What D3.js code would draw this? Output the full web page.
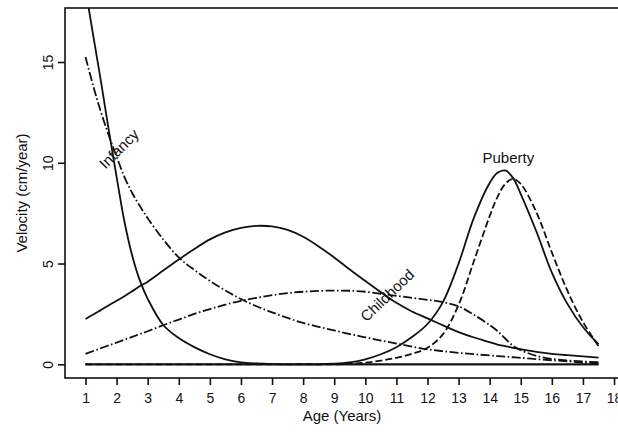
<!DOCTYPE html>
<html>
<head>
<meta charset="utf-8">
<script src="https://cdn.jsdelivr.net/npm/d3@7"></script>
<style>
  html, body { margin: 0; padding: 0; background: #fff; }
  svg { display: block; }
  text { font-family: "Liberation Sans", Arial, Helvetica, sans-serif; fill: #111; }
</style>
</head>
<body>
<svg id="chart" width="618" height="432"></svg>
<script>
// Growth velocity components (cm/year) by age (years)
const ages = [1, 1.25, 1.5, 1.75, 2, 2.25, 2.5, 2.75, 3, 3.5, 4, 4.5, 5, 5.5, 6, 6.5, 7, 7.5, 8, 8.5,
              9, 9.5, 10, 10.5, 11, 11.5, 12, 12.5, 13, 13.5, 14, 14.25, 14.5, 14.75, 15, 15.5, 16, 16.5, 17, 17.5];

const infancySolid = [18.6, 16.3, 14.0, 11.6, 9.3, 7.1, 5.4, 4.15, 3.25, 1.95, 1.3, 0.85, 0.5, 0.25, 0.1, 0.04, 0.01, 0, 0, 0,
                      0, 0, 0, 0, 0, 0, 0, 0, 0, 0, 0, 0, 0, 0, 0, 0, 0, 0, 0, 0];
const infancyDotDash = [15.25, 13.8, 12.5, 11.35, 10.3, 9.3, 8.5, 7.85, 7.25, 6.2, 5.3, 4.68, 4.14, 3.66, 3.24, 2.88, 2.58, 2.3, 2.05, 1.86,
                        1.68, 1.5, 1.34, 1.18, 1.03, 0.88, 0.74, 0.65, 0.57, 0.5, 0.44, 0.41, 0.38, 0.35, 0.32, 0.26, 0.2, 0.15, 0.09, 0.05];
const childhoodSolid = [2.25, 2.47, 2.7, 2.93, 3.15, 3.38, 3.62, 3.88, 4.1, 4.65, 5.2, 5.72, 6.2, 6.55, 6.77, 6.87, 6.84, 6.67, 6.33, 5.85,
                        5.3, 4.7, 4.13, 3.58, 3.05, 2.62, 2.28, 1.93, 1.6, 1.33, 1.1, 0.98, 0.9, 0.82, 0.75, 0.62, 0.52, 0.45, 0.39, 0.33];
const childhoodDotDash = [0.52, 0.66, 0.8, 0.94, 1.08, 1.22, 1.36, 1.5, 1.64, 1.94, 2.22, 2.5, 2.74, 2.96, 3.15, 3.3, 3.43, 3.53, 3.6, 3.64,
                          3.66, 3.65, 3.6, 3.5, 3.4, 3.3, 3.2, 3.08, 2.88, 2.45, 1.95, 1.65, 1.28, 0.92, 0.7, 0.42, 0.27, 0.19, 0.14, 0.1];
const pubertySolid = [0, 0, 0, 0, 0, 0, 0, 0, 0, 0, 0, 0, 0, 0, 0, 0, 0, 0, 0, 0,
                      0.03, 0.1, 0.25, 0.5, 0.85, 1.35, 2.0, 3.1, 5.0, 7.3, 9.0, 9.5, 9.62, 9.25, 8.45, 6.6, 4.55, 3.0, 1.85, 1.0];
const pubertyDashed = [0, 0, 0, 0, 0, 0, 0, 0, 0, 0, 0, 0, 0, 0, 0, 0, 0, 0, 0, 0,
                       0, 0.03, 0.08, 0.18, 0.32, 0.52, 0.82, 1.5, 2.95, 5.15, 7.35, 8.3, 8.95, 9.2, 8.95, 7.55, 5.55, 3.65, 2.1, 0.9];
const baseline = ages.map(() => 0);

const xTicks = d3.range(1, 19);
const yTicks = [0, 5, 10, 15];

const svg = d3.select("#chart");
const plotLeft = 65, plotRight = 619, plotTop = 8, plotBottom = 378;

const x = d3.scaleLinear().domain([0.34, 18.16]).range([plotLeft, plotRight]);
const y = d3.scaleLinear().domain([-0.68, 17.68]).range([plotBottom, plotTop]);

svg.append("clipPath").attr("id", "plotClip")
  .append("rect").attr("x", plotLeft).attr("y", plotTop)
  .attr("width", plotRight - plotLeft).attr("height", plotBottom - plotTop);

const plot = svg.append("g").attr("clip-path", "url(#plotClip)");

const line = d3.line()
  .x((d, i) => x(ages[i]))
  .y(d => y(d))
  .curve(d3.curveCatmullRom.alpha(0.5));

const series = [
  { values: baseline, dash: null },
  { values: infancySolid, dash: null },
  { values: infancyDotDash, dash: "9,2.5,1.6,2.5" },
  { values: childhoodSolid, dash: null },
  { values: childhoodDotDash, dash: "9,2.5,1.6,2.5" },
  { values: pubertySolid, dash: null },
  { values: pubertyDashed, dash: "7,3" }
];

plot.selectAll("path.curve")
  .data(series)
  .join("path")
  .attr("class", "curve")
  .attr("d", d => line(d.values))
  .attr("fill", "none")
  .attr("stroke", "#111")
  .attr("stroke-width", 1.8)
  .attr("stroke-linejoin", "round")
  .attr("stroke-dasharray", d => d.dash);

// Frame around the plotting region
svg.append("rect")
  .attr("x", plotLeft).attr("y", plotTop)
  .attr("width", plotRight - plotLeft).attr("height", plotBottom - plotTop)
  .attr("fill", "none").attr("stroke", "#111").attr("stroke-width", 1.6);

// x axis
const xAxis = svg.append("g")
  .attr("transform", `translate(0,${plotBottom})`)
  .call(d3.axisBottom(x).tickValues(xTicks).tickSize(7).tickPadding(8).tickFormat(d3.format("d")));
xAxis.select(".domain").remove();
xAxis.selectAll(".tick line").attr("stroke", "#111").attr("stroke-width", 1.6);
xAxis.selectAll(".tick text").style("font-size", "14px").attr("fill", "#111");

// y axis with labels turned to read upward
const yAxis = svg.append("g")
  .attr("transform", `translate(${plotLeft},0)`)
  .call(d3.axisLeft(y).tickValues(yTicks).tickSize(7).tickFormat(d3.format("d")));
yAxis.select(".domain").remove();
yAxis.selectAll(".tick line").attr("stroke", "#111").attr("stroke-width", 1.6);
yAxis.selectAll(".tick text")
  .attr("x", null).attr("dy", null)
  .attr("text-anchor", "middle")
  .attr("transform", "translate(-12,0) rotate(-90)")
  .style("font-size", "14px").attr("fill", "#111");

// Axis titles
svg.append("text")
  .attr("x", (plotLeft + plotRight) / 2).attr("y", 421)
  .attr("text-anchor", "middle")
  .style("font-size", "15px")
  .text("Age (Years)");

svg.append("text")
  .attr("transform", `translate(27,${(plotTop + plotBottom) / 2}) rotate(-90)`)
  .attr("text-anchor", "middle")
  .style("font-size", "15px")
  .text("Velocity (cm/year)");

// Component labels
const labels = [
  { text: "Infancy", age: 2.07, v: 10.7, angle: -45 },
  { text: "Childhood", age: 10.7, v: 3.43, angle: -44 },
  { text: "Puberty", age: 14.6, v: 10.25, angle: 0 }
];
svg.selectAll("text.component")
  .data(labels)
  .join("text")
  .attr("class", "component")
  .attr("transform", d => `translate(${x(d.age)},${y(d.v)}) rotate(${d.angle})`)
  .attr("text-anchor", "middle")
  .attr("dominant-baseline", "central")
  .style("font-size", "15px")
  .text(d => d.text);
</script>
</body>
</html>
